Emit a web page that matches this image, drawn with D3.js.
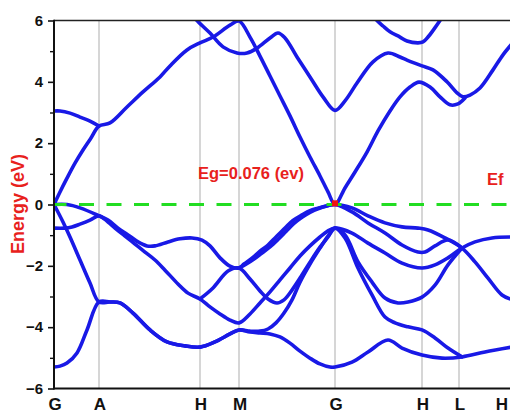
<!DOCTYPE html>
<html>
<head>
<meta charset="utf-8">
<script src="https://cdn.jsdelivr.net/npm/d3@7"></script>
<style>
  html, body { margin: 0; padding: 0; background: #ffffff; }
  svg { display: block; }
  text { font-family: "Liberation Sans", Arial, Helvetica, sans-serif; font-weight: bold; }
</style>
</head>
<body>
<svg id="chart" width="510" height="414"></svg>
<script>
// High-symmetry points along the k-path and their labels
const kSym = [0, 0.45, 1.46, 1.85, 2.81, 3.68, 4.05, 4.54];
const kLabels = ["G", "A", "H", "M", "G", "H", "L", "H"];
const kMax = 4.58;

// Energy axis ticks (eV)
const yTicks = [-6, -4, -2, 0, 2, 4, 6];
const yMinorTicks = [-5, -3, -1, 1, 3, 5];

// Band gap at the G point (eV)
const gapValue = 0.076;
const fermiLevel = 0;

// Band energies: [k, E (eV)]
const bandCone = [[0,0],[0.06,0.41],[0.13,0.86],[0.21,1.35],[0.29,1.78],[0.37,2.17],[0.45,2.56],[0.56,2.66],[0.73,3.18],[0.89,3.67],[1.06,4.16],[1.16,4.52],[1.33,5.04],[1.46,5.27],[1.59,5.46],[1.76,5.85],[1.85,5.98],[1.96,5.46],[2.06,4.84],[2.16,4.19],[2.26,3.54],[2.36,2.89],[2.46,2.20],[2.56,1.55],[2.66,0.93],[2.74,0.41],[2.81,0],[2.91,0.54],[3.01,1.06],[3.13,1.71],[3.24,2.40],[3.36,3.05],[3.46,3.51],[3.56,3.83],[3.65,3.99],[3.76,3.83],[3.86,3.51],[3.96,3.25],[4.04,3.28],[4.11,3.47]];

const bandUpper = [[1.40,6.12],[1.43,6.0],[1.56,5.59],[1.69,5.14],[1.83,4.94],[1.93,4.94],[2.03,5.10],[2.16,5.43],[2.24,5.59],[2.31,5.43],[2.43,4.81],[2.56,4.16],[2.69,3.51],[2.81,3.07],[2.91,3.38],[3.03,3.96],[3.19,4.65],[3.34,4.94],[3.46,4.81],[3.53,4.71],[3.68,4.52],[3.79,4.39],[3.93,4.0],[4.03,3.64],[4.09,3.51],[4.16,3.57],[4.26,3.80],[4.39,4.39],[4.49,4.88],[4.58,5.24]];

const bandTop = [[3.20,6.12],[3.23,6.0],[3.29,5.82],[3.36,5.63],[3.46,5.46],[3.53,5.33],[3.64,5.27],[3.69,5.30],[3.74,5.46],[3.80,5.72],[3.86,6.0],[3.88,6.1]];

const bandGA = [[0,3.05],[0.06,3.05],[0.16,2.98],[0.26,2.85],[0.36,2.72],[0.45,2.56]];

const bandV1 = [[0,0],[0.13,0],[0.26,-0.11],[0.45,-0.37],[0.54,-0.51],[0.64,-0.77],[0.74,-0.99],[0.84,-1.22],[0.93,-1.35],[1.01,-1.35],[1.14,-1.22],[1.26,-1.12],[1.38,-1.09],[1.48,-1.16],[1.56,-1.35],[1.66,-1.74],[1.76,-2.01],[1.85,-2.07],[1.90,-1.94],[1.98,-1.75],[2.06,-1.52],[2.14,-1.32],[2.22,-1.06],[2.31,-0.77],[2.39,-0.52],[2.48,-0.34],[2.56,-0.2],[2.64,-0.12],[2.73,-0.04],[2.81,0],[2.98,-0.11],[3.14,-0.37],[3.31,-0.60],[3.48,-0.73],[3.64,-0.77],[3.74,-0.83],[3.91,-1.09],[4.08,-1.42],[4.21,-1.87],[4.34,-2.40],[4.48,-2.95],[4.58,-3.1]];

const bandV2 = [[1.85,-2.07],[1.92,-1.95],[2.00,-1.78],[2.08,-1.58],[2.16,-1.38],[2.24,-1.14],[2.32,-0.88],[2.40,-0.62],[2.48,-0.42],[2.56,-0.26],[2.64,-0.14],[2.73,-0.05],[2.81,0],[2.98,-0.24],[3.14,-0.60],[3.31,-0.93],[3.48,-1.32],[3.64,-1.55],[3.71,-1.55],[3.81,-1.35],[3.94,-1.16],[4.08,-1.42]];

const bandV3 = [[0,-0.77],[0.11,-0.77],[0.18,-0.73],[0.26,-0.64],[0.36,-0.51],[0.45,-0.37],[0.54,-0.57],[0.61,-0.77],[0.71,-1.03],[0.81,-1.29],[0.91,-1.55],[1.01,-1.81],[1.11,-2.14],[1.24,-2.59],[1.34,-2.89],[1.46,-3.08],[1.56,-3.34],[1.66,-3.57],[1.76,-3.77],[1.85,-3.86],[1.96,-3.57],[2.06,-3.21],[2.16,-2.85],[2.26,-2.46],[2.36,-2.07],[2.46,-1.68],[2.56,-1.35],[2.66,-1.06],[2.74,-0.86],[2.81,-0.77],[2.98,-0.93],[3.14,-1.26],[3.31,-1.58],[3.48,-1.91],[3.68,-2.07],[3.81,-1.97],[3.94,-1.74],[4.08,-1.42],[4.21,-1.22],[4.38,-1.09],[4.58,-1.06]];

const bandV4 = [[1.46,-3.08],[1.59,-2.72],[1.74,-2.17],[1.85,-2.07],[1.96,-2.43],[2.06,-2.82],[2.14,-3.08],[2.23,-3.21],[2.30,-3.11],[2.38,-2.79],[2.46,-2.40],[2.56,-1.88],[2.66,-1.39],[2.74,-1.06],[2.81,-0.77],[2.91,-0.99],[3.04,-1.87],[3.18,-2.53],[3.31,-3.05],[3.44,-3.21],[3.54,-3.18],[3.68,-3.02],[3.81,-2.63],[3.94,-1.97],[4.08,-1.42]];

const bandV5 = [[0,-5.30],[0.06,-5.27],[0.13,-5.17],[0.23,-4.84],[0.33,-4.09],[0.45,-3.18],[0.56,-3.18],[0.66,-3.21],[0.79,-3.54],[0.96,-4.09],[1.13,-4.48],[1.31,-4.61],[1.46,-4.65],[1.61,-4.48],[1.76,-4.22],[1.85,-4.09],[1.96,-4.13],[2.06,-4.13],[2.14,-4.06],[2.22,-3.86],[2.30,-3.54],[2.38,-3.11],[2.46,-2.53],[2.56,-1.94],[2.66,-1.42],[2.74,-1.03],[2.81,-0.77],[2.91,-1.09],[3.04,-2.07],[3.18,-2.95],[3.31,-3.67],[3.41,-3.86],[3.54,-3.99],[3.68,-4.09],[3.81,-4.35],[3.94,-4.68],[4.08,-4.97]];

const bandV6 = [[0,0],[0.09,-0.57],[0.16,-1.06],[0.26,-1.81],[0.36,-2.56],[0.45,-3.18],[0.56,-3.18],[0.66,-3.21],[0.79,-3.54],[0.96,-4.09],[1.13,-4.48],[1.31,-4.61],[1.46,-4.65],[1.61,-4.48],[1.76,-4.22],[1.85,-4.09],[1.96,-4.16],[2.06,-4.19],[2.16,-4.22],[2.26,-4.32],[2.36,-4.52],[2.46,-4.78],[2.56,-5.01],[2.66,-5.20],[2.76,-5.30],[2.81,-5.30],[2.98,-5.14],[3.14,-4.81],[3.34,-4.42],[3.48,-4.68],[3.68,-4.91],[3.88,-5.01],[4.08,-4.97],[4.31,-4.81],[4.58,-4.65]];

const bands = [bandGA, bandCone, bandUpper, bandTop, bandV1, bandV2, bandV3, bandV4, bandV5, bandV6];

// Layout
const svg = d3.select("#chart");
const plot = { left: 54, right: 512, top: 20.5, bottom: 388.5 };

const x = d3.scaleLinear().domain([0, kMax]).range([plot.left, plot.right]);
const y = d3.scaleLinear().domain([-6, 6]).range([plot.bottom, plot.top]);

svg.append("defs").append("clipPath").attr("id", "plot-clip")
  .append("rect")
  .attr("x", plot.left).attr("y", plot.top)
  .attr("width", plot.right - plot.left).attr("height", plot.bottom - plot.top);

// Vertical guides at the interior high-symmetry points
svg.append("g")
  .selectAll("line")
  .data(kSym.slice(1, 7))
  .join("line")
  .attr("x1", d => x(d)).attr("x2", d => x(d))
  .attr("y1", plot.top).attr("y2", plot.bottom)
  .attr("stroke", "#b4b4b4")
  .attr("stroke-width", 1.1);

// Bands
const line = d3.line()
  .x(d => x(d[0]))
  .y(d => y(d[1]))
  .curve(d3.curveCatmullRom.alpha(0.5));

svg.append("g")
  .attr("clip-path", "url(#plot-clip)")
  .selectAll("path")
  .data(bands)
  .join("path")
  .attr("d", line)
  .attr("fill", "none")
  .attr("stroke", "#1919e6")
  .attr("stroke-width", 3.6)
  .attr("stroke-linejoin", "round")
  .attr("stroke-linecap", "round");

// Fermi level
svg.append("line")
  .attr("x1", plot.left).attr("x2", 510)
  .attr("y1", y(fermiLevel)).attr("y2", y(fermiLevel))
  .attr("stroke", "#22dd22")
  .attr("stroke-width", 3)
  .attr("stroke-dasharray", "15,12.5")
  .attr("stroke-dashoffset", 2.5);

// Gap marker at G
svg.append("rect")
  .attr("x", x(kSym[4]) - 3).attr("y", y(gapValue / 2) - 3)
  .attr("width", 6).attr("height", 6)
  .attr("fill", "#ee1111");

// Frame
svg.append("line")
  .attr("x1", plot.left).attr("x2", 510)
  .attr("y1", plot.top).attr("y2", plot.top)
  .attr("stroke", "#222").attr("stroke-width", 1.6);
svg.append("line")
  .attr("x1", plot.left).attr("x2", 510)
  .attr("y1", plot.bottom).attr("y2", plot.bottom)
  .attr("stroke", "#111").attr("stroke-width", 2);

// Y axis
const yAxis = svg.append("g")
  .attr("transform", `translate(${plot.left},0)`)
  .call(d3.axisLeft(y).tickValues(yTicks).tickSize(6).tickPadding(5));
yAxis.select(".domain").remove();
yAxis.selectAll(".tick line").attr("stroke", "#111").attr("stroke-width", 1.6);
yAxis.selectAll(".tick text")
  .attr("font-size", 15)
  .attr("font-weight", "bold")
  .attr("font-family", "'Liberation Sans', Arial, sans-serif")
  .attr("fill", "#111");

const yMinor = svg.append("g")
  .attr("transform", `translate(${plot.left},0)`)
  .call(d3.axisLeft(y).tickValues(yMinorTicks).tickSize(4).tickFormat(""));
yMinor.select(".domain").remove();
yMinor.selectAll(".tick line").attr("stroke", "#111").attr("stroke-width", 1.4);

svg.append("line")
  .attr("x1", plot.left).attr("x2", plot.left)
  .attr("y1", plot.top - 0.8).attr("y2", plot.bottom + 1)
  .attr("stroke", "#111").attr("stroke-width", 2);

// K-path labels (the last one is pulled in to stay inside the frame)
svg.append("g")
  .selectAll("text")
  .data(kSym.map((k, i) => ({ k, label: kLabels[i] })))
  .join("text")
  .attr("x", d => Math.min(x(d.k) + 1, 502))
  .attr("y", 410)
  .attr("text-anchor", "middle")
  .attr("font-size", 17)
  .attr("fill", "#111")
  .text(d => d.label);

// Axis title
svg.append("text")
  .attr("transform", "translate(24,204) rotate(-90)")
  .attr("text-anchor", "middle")
  .attr("font-size", 18)
  .attr("fill", "#e8211c")
  .text("Energy (eV)");

// Annotations
svg.append("text")
  .attr("x", 251).attr("y", 179)
  .attr("text-anchor", "middle")
  .attr("font-size", 16.5)
  .attr("fill", "#e8211c")
  .text(`Eg=${gapValue.toFixed(3)} (ev)`);

svg.append("text")
  .attr("x", 487).attr("y", 185)
  .attr("font-size", 16.5)
  .attr("fill", "#e8211c")
  .text("Ef");
</script>
</body>
</html>
